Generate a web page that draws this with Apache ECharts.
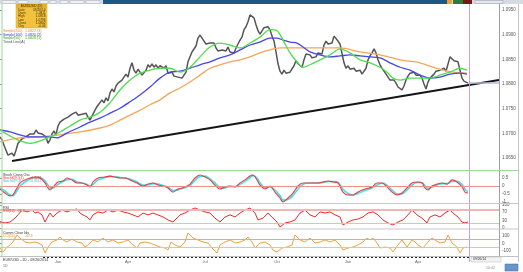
<!DOCTYPE html>
<html><head><meta charset="utf-8">
<script src="https://cdn.jsdelivr.net/npm/echarts@6/dist/echarts.min.js"></script>
<style>html,body{margin:0;padding:0;background:#fff;overflow:hidden}#c{width:523px;height:272px}</style>
</head><body><div id="c"></div>
<script>
// ---- data (bar index = trading day) ----
const closeStep = 2;
const close = [
1.0693,1.0687,1.0676,1.0666,1.0656,1.0652,1.0660,1.0654,1.0666,1.0680,
1.0676,1.0689,1.0685,1.0693,1.0689,1.0699,1.0703,1.0699,1.0707,1.0701,
1.0705,1.0699,1.0695,1.0693,1.0680,1.0687,1.0699,1.0705,1.0697,1.0715,
1.0723,1.0719,1.0729,1.0727,1.0733,1.0729,1.0739,1.0735,1.0743,1.0737,
1.0733,1.0739,1.0735,1.0741,1.0733,1.0727,1.0735,1.0743,1.0751,1.0757,
1.0753,1.0768,1.0762,1.0772,1.0766,1.0782,1.0790,1.0784,1.0796,1.0802,
1.0798,1.0808,1.0812,1.0820,1.0814,1.0832,1.0843,1.0828,1.0822,1.0830,
1.0824,1.0818,1.0822,1.0828,1.0839,1.0834,1.0841,1.0834,1.0839,1.0832,
1.0837,1.0839,1.0832,1.0837,1.0822,1.0818,1.0824,1.0816,1.0820,1.0814,
1.0818,1.0812,1.0816,1.0824,1.0845,1.0849,1.0865,1.0871,1.0877,1.0893,
1.0899,1.0895,1.0887,1.0881,1.0877,1.0883,1.0879,1.0883,1.0873,1.0867,
1.0863,1.0869,1.0873,1.0867,1.0875,1.0865,1.0869,1.0863,1.0873,1.0881,
1.0889,1.0895,1.0910,1.0916,1.0926,1.0940,1.0944,1.0934,1.0920,1.0908,
1.0901,1.0905,1.0914,1.0910,1.0916,1.0910,1.0897,1.0887,1.0865,1.0841,
1.0826,1.0820,1.0828,1.0822,1.0818,1.0824,1.0820,1.0837,1.0847,1.0841,
1.0843,1.0834,1.0849,1.0861,1.0857,1.0859,1.0853,1.0857,1.0855,1.0863,
1.0867,1.0861,1.0879,1.0887,1.0881,1.0885,1.0883,1.0897,1.0899,1.0887,
1.0881,1.0877,1.0843,1.0832,1.0837,1.0830,1.0828,1.0832,1.0826,1.0824,
1.0828,1.0820,1.0818,1.0832,1.0849,1.0857,1.0863,1.0871,1.0863,1.0849,
1.0839,1.0832,1.0826,1.0820,1.0814,1.0808,1.0804,1.0808,1.0802,1.0794,
1.0790,1.0788,1.0796,1.0808,1.0816,1.0822,1.0820,1.0824,1.0818,1.0816,
1.0818,1.0812,1.0800,1.0790,1.0804,1.0812,1.0816,1.0820,1.0826,1.0822,
1.0828,1.0824,1.0832,1.0826,1.0828,1.0855,1.0853,1.0847,1.0851,1.0845,
1.0828,1.0812,1.0806,1.0804,1.0802
];
const sma50 = [[0,1.0707],[10,1.0695],[20,1.0685],[30,1.0680],[40,1.0685],[50,1.0693],[60,1.0703],[70,1.0715],[80,1.0727],[90,1.0733],[100,1.0743],[110,1.0762],[120,1.0788],[130,1.0808],[140,1.0822],[150,1.0828],[160,1.0832],[170,1.0832],[180,1.0824],[190,1.0834],[200,1.0855],[210,1.0875],[220,1.0883],[230,1.0879],[240,1.0873],[250,1.0883],[260,1.0895],[270,1.0910],[277,1.0908],[283,1.0889],[290,1.0863],[297,1.0845],[303,1.0834],[310,1.0839],[320,1.0849],[330,1.0859],[340,1.0871],[350,1.0863],[360,1.0849],[370,1.0843],[380,1.0834],[387,1.0824],[393,1.0812],[400,1.0808],[410,1.0812],[420,1.0812],[430,1.0812],[440,1.0818],[450,1.0824],[460,1.0832],[467,1.0828]];
const sma100 = [[0,1.0707],[10,1.0703],[20,1.0697],[30,1.0693],[40,1.0693],[50,1.0693],[57,1.0691],[67,1.0701],[80,1.0713],[90,1.0723],[100,1.0731],[110,1.0741],[120,1.0751],[130,1.0764],[140,1.0778],[150,1.0794],[160,1.0812],[170,1.0824],[180,1.0826],[190,1.0832],[200,1.0839],[210,1.0845],[220,1.0853],[230,1.0859],[240,1.0869],[250,1.0879],[260,1.0885],[270,1.0893],[277,1.0893],[283,1.0889],[290,1.0885],[297,1.0883],[303,1.0875],[310,1.0865],[320,1.0859],[330,1.0855],[340,1.0857],[350,1.0859],[360,1.0857],[370,1.0855],[380,1.0853],[390,1.0843],[400,1.0834],[410,1.0828],[420,1.0818],[430,1.0812],[440,1.0814],[450,1.0820],[460,1.0822],[467,1.0820]];
const sma200 = [[0,1.0683],[20,1.0691],[40,1.0693],[60,1.0697],[80,1.0703],[100,1.0711],[110,1.0717],[120,1.0727],[130,1.0737],[140,1.0747],[150,1.0758],[160,1.0768],[170,1.0782],[180,1.0792],[190,1.0804],[200,1.0818],[210,1.0832],[220,1.0839],[230,1.0845],[240,1.0849],[250,1.0855],[260,1.0863],[270,1.0869],[280,1.0873],[300,1.0873],[320,1.0873],[340,1.0873],[360,1.0865],[380,1.0859],[400,1.0849],[420,1.0843],[433,1.0834],[443,1.0828],[453,1.0824],[467,1.0822]];
const trendLine = [[12,1.0644],[499,1.0808]];
const lastPrice = 1.0802;

const stochK = [[0,-0.19],[5,-0.44],[10,-0.62],[13,-0.56],[17,-0.12],[20,0.19],[25,0.38],[30,0.5],[35,0.56],[40,0.5],[45,0.19],[48,-0.12],[50,-0.25],[53,-0.06],[58,0.25],[63,0.31],[67,0.5],[72,0.38],[77,0.19],[82,0.19],[87,0.06],[90,-0.06],[93,0.25],[98,0.5],[105,0.56],[110,0.62],[115,0.56],[120,0.5],[125,0.5],[130,0.38],[137,0.19],[143,0],[148,0.12],[153,0.19],[158,0.06],[163,0],[168,-0.12],[173,-0.38],[178,-0.19],[182,-0.12],[185,-0.06],[190,0.12],[195,0.5],[200,0.69],[205,0.56],[210,0.38],[215,0.06],[220,-0.19],[225,-0.06],[230,0],[235,-0.06],[240,0.19],[245,0.38],[250,0.62],[253,0.69],[257,0.38],[260,0.06],[265,-0.19],[270,0],[275,-0.38],[280,-0.75],[283,-1.0],[288,-0.75],[293,-0.44],[298,0],[303,0.19],[308,0.19],[313,0.19],[318,0.19],[323,0.25],[328,0.31],[333,0.25],[338,0.19],[343,-0.38],[348,-0.56],[353,-0.56],[358,-0.38],[365,-0.19],[372,-0.06],[377,0.19],[382,0.19],[387,-0.06],[392,-0.38],[397,-0.56],[402,-0.44],[407,-0.12],[412,0.19],[417,0.25],[422,0.19],[425,-0.12],[428,-0.25],[432,0],[437,0.12],[442,0.19],[447,0.12],[452,0.38],[457,0.25],[462,-0.06],[465,-0.38],[468,-0.44]];
const stochD = [[0,-0.12],[5,-0.31],[10,-0.56],[13,-0.6],[17,-0.3],[20,0.0],[25,0.25],[30,0.44],[35,0.53],[40,0.53],[45,0.31],[48,0.06],[50,-0.12],[53,-0.12],[58,0.1],[63,0.28],[67,0.4],[72,0.42],[77,0.25],[82,0.19],[87,0.1],[90,0.0],[93,0.1],[98,0.38],[105,0.53],[110,0.6],[115,0.58],[120,0.53],[125,0.5],[130,0.44],[137,0.25],[143,0.06],[148,0.06],[153,0.15],[158,0.12],[163,0.03],[168,-0.06],[173,-0.28],[178,-0.25],[182,-0.16],[185,-0.1],[190,0.03],[195,0.35],[200,0.6],[205,0.62],[210,0.45],[215,0.19],[220,-0.1],[225,-0.12],[230,-0.03],[235,-0.03],[240,0.1],[245,0.3],[250,0.53],[253,0.65],[257,0.5],[260,0.2],[265,-0.1],[270,-0.06],[275,-0.25],[280,-0.6],[283,-0.88],[288,-0.85],[293,-0.6],[298,-0.19],[303,0.1],[308,0.19],[313,0.19],[318,0.19],[323,0.22],[328,0.28],[333,0.28],[338,0.22],[343,-0.2],[348,-0.47],[353,-0.56],[358,-0.47],[365,-0.28],[372,-0.12],[377,0.06],[382,0.19],[387,0.06],[392,-0.25],[397,-0.5],[402,-0.5],[407,-0.25],[412,0.06],[417,0.22],[422,0.22],[425,0.03],[428,-0.15],[432,-0.06],[437,0.06],[442,0.15],[447,0.15],[452,0.28],[457,0.3],[462,0.1],[465,-0.2],[468,-0.35]];
const rsi = [[0,26],[5,22],[10,26],[15,43],[18,57],[22,78],[27,70],[32,78],[35,65],[38,70],[42,57],[45,26],[47,43],[50,65],[53,48],[57,65],[62,78],[67,70],[72,78],[77,83],[80,65],[83,57],[87,48],[90,35],[93,57],[98,70],[103,65],[108,78],[113,70],[118,78],[123,70],[128,65],[133,57],[138,48],[143,65],[148,57],[153,65],[158,57],[163,48],[168,35],[173,26],[178,48],[180,57],[185,65],[190,78],[195,87],[200,78],[205,70],[210,65],[215,43],[220,26],[225,48],[230,57],[235,48],[240,65],[245,78],[250,87],[255,65],[258,35],[263,43],[268,65],[273,43],[277,26],[280,4],[285,22],[290,26],[295,35],[300,65],[305,78],[310,57],[315,48],[320,70],[325,65],[330,70],[335,57],[340,48],[343,13],[348,26],[353,35],[358,39],[363,48],[368,65],[373,70],[375,78],[378,57],[383,35],[388,22],[393,13],[398,26],[403,35],[408,57],[412,78],[417,57],[422,43],[427,22],[430,48],[435,57],[440,48],[445,65],[450,78],[453,65],[458,48],[462,26],[465,22],[468,26]];
const cci = [[0,-60],[3,-113],[7,-47],[10,-20],[13,20],[17,113],[20,73],[25,20],[30,7],[35,20],[38,7],[42,-20],[45,-127],[48,-47],[52,20],[57,47],[60,87],[63,47],[67,20],[72,60],[77,20],[82,7],[85,-47],[88,-20],[93,47],[98,20],[103,73],[108,20],[113,47],[118,7],[123,20],[128,47],[133,-20],[137,-60],[140,7],[145,20],[150,7],[155,-20],[160,-47],[165,-60],[168,-87],[171,20],[175,-20],[180,-47],[185,20],[188,140],[193,73],[198,47],[203,20],[208,7],[212,-60],[217,-127],[220,-20],[225,20],[230,47],[235,7],[240,20],[245,47],[248,87],[252,20],[255,-60],[260,7],[265,20],[270,-20],[273,-87],[277,-113],[282,-60],[287,-47],[292,-20],[295,113],[300,47],[305,20],[310,73],[315,7],[320,20],[325,47],[330,20],[335,47],[340,-20],[343,-87],[348,-60],[353,-47],[358,-20],[363,20],[367,73],[370,47],[373,73],[377,7],[380,-60],[385,-47],[390,-60],[393,-113],[398,-20],[402,47],[407,-47],[412,47],[415,20],[418,-20],[423,-60],[428,20],[432,73],[435,47],[440,7],[445,20],[448,113],[452,7],[457,-47],[460,-127],[463,-60],[467,-47]];

const priceTicks = [1.0650,1.0700,1.0750,1.0800,1.0850,1.0900,1.0950];
const stochTicks = [-1.0,-0.5,0,0.5];
const stochLevel = 0;
const rsiTicks = [0,30,70,100];
const rsiLevels = [80,20];
const cciTicks = [-100,0,100];
const cciLevels = [50,-50];
const dateBars = [58,128,205,277,348,418];
const dateLabels = ['Jan','Apr','Jul','Oct','Jan','Apr'];
const infoLabels = ['Date','Open','High','Low','Close','Chg'];
const infoValues = ['09/26/14','1.0811','1.0818','1.0796','1.0802','-0.04'];

// ---- chart ----
const closeData = close.map((v,i)=>[i*closeStep, v]);
const dashTicks = []; for (let b=44; b<=468; b+=4) dashTicks.push(b);
const F = 'Liberation Sans, Arial, sans-serif';
const XMAX = 499;

function yAx(grid, min, max, ticks, fmt){
  return {type:'value', gridIndex:grid, position:'right', min:min, max:max,
    axisLine:{show:false},
    axisTick:{show:true, length:2, lineStyle:{color:'#999'}, customValues:ticks},
    axisLabel:{show:true, fontSize:4.5, color:'#555', fontFamily:F, margin:3, customValues:ticks, formatter:fmt},
    splitLine:{show:false}};
}
function xAx(grid, show){
  const a = {type:'value', gridIndex:grid, min:0, max:XMAX, show:show, position:'bottom',
    axisLine:{show:false, onZero:false}, splitLine:{show:false}};
  if (show){
    a.axisTick = {show:true, length:2, lineStyle:{color:'#222', width:2}, customValues:dashTicks};
    a.axisLabel = {show:true, fontSize:4, color:'#666', fontFamily:F, margin:4, customValues:dateBars,
      formatter: v => { const k = dateBars.indexOf(v); return k>=0 ? dateLabels[k] : ''; }};
  }
  return a;
}
function lvl(vals, colors, widths){
  return {silent:true, symbol:'none', label:{show:false}, animation:false,
    data: vals.map((v,i)=>({yAxis:v, lineStyle:{color:colors[i], width:widths[i], type:'solid'}}))};
}
function ln(name, data, xi, color, width, extra){
  return Object.assign({name:name, type:'line', data:data, xAxisIndex:xi, yAxisIndex:xi, showSymbol:false,
    symbol:'none', lineStyle:{color:color, width:width}, itemStyle:{color:color}, animation:false}, extra||{});
}

const txt = (x,y,t,c,fs,align)=>({type:'text', x:x, y:y, style:{text:t, fill:c, font:(fs||4)+'px '+F, textAlign:align||'left', textVerticalAlign:'middle'}, z:100});
const line = (x1,y1,x2,y2,c,w)=>({type:'line', shape:{x1:x1,y1:y1,x2:x2,y2:y2}, style:{stroke:c, lineWidth:w||1}, z:90});
const rect = (x,y,w,h,f,s)=>({type:'rect', shape:{x:x,y:y,width:w,height:h}, style:{fill:f, stroke:s||null, lineWidth:0.5}, z:95});

const graphics = [
  // toolbar
  rect(0,0,523,4,'#d6dbe2'), rect(103,0,345,4,'#1d5883'),
  rect(2,0.5,14,3,'#eef0f3','#aab'), rect(18,0.5,10,3,'#eef0f3','#aab'), rect(40,0.5,8,3,'#eef0f3','#aab'),
  rect(50,0.5,6,3,'#eef0f3','#aab'), rect(60,0.5,8,3,'#eef0f3','#aab'), rect(70,0.5,14,3,'#eef0f3','#aab'), rect(86,0.5,14,3,'#eef0f3','#aab'),
  rect(447,0,5,4,'#e9a22f'), rect(453,0,10,4,'#2f7a34'), rect(463,0,9,4,'#7d1616'), rect(475,0.5,28,3,'#e4e7ec','#99a'),
  // frame lines
  line(2,4,2,257,'#9bd69b',1), line(499.5,4,499.5,256,'#a0a0a0',1), line(518.5,4,518.5,262,'#c4c4c4',1),
  line(0,170.5,518,170.5,'#9bd69b',1), line(0,203.5,518,203.5,'#c8c8c8',1), line(0,229,518,229,'#c8c8c8',1), line(0,256.5,518,256.5,'#c0c0c0',1),
  line(469.5,4,469.5,262,'#c9a2dc',1),
  // yellow info box
  rect(16,4,31,24,'#f2c23e','#d9a31c'), rect(16,4,31,4,'#e8b12a'),
  txt(31.5,6,'EUR/USD (D)','#3a2a00',3.5,'center'),
  // legend texts
  txt(3,31,'Simple(200)','#f08a30',3.6), txt(25,31,'1.0822 (3)','#f08a30',3.6),
  txt(3,34.6,'Simple(100)','#3030e0',3.6), txt(25,34.6,'1.0820 (2)','#3030e0',3.6),
  txt(3,38.2,'Simple(50)','#22b022',3.6), txt(25,38.2,'1.0828 (1)','#22b022',3.6),
  txt(3,41.6,'Trend Line(A)','#555',3.6),
  // stoch header
  txt(3,174.5,'Stoch Cross Osc','#333',3.6), txt(3,178,'StochK(9,3,1)','#e83030',3.4), txt(30,178,'-0.4056','#e83030',3.4),
  txt(3,181.3,'StochD(9,3)','#20c8d8',3.4), txt(30,181.3,'-0.3512','#20c8d8',3.4),
  // rsi header
  txt(3,207.5,'RSI','#333',3.6), txt(3,211,'RSI(14)','#e83030',3.4), txt(18,211,'26.3','#e83030',3.4),
  // cci header
  txt(3,233,'Comm Chan Idx','#333',3.6), txt(3,236.5,'CCI(14)','#f08a30',3.4), txt(25,236.5,'-47.9','#f08a30',3.4),
  // bottom
  txt(3,259.5,'EUR/USD - 1D - 09/26/2014','#333',3.6), txt(3,266,'1D','#666',3.6),
  rect(471,257,30,5,'#f2f2f2','#bbb'), txt(473,259.5,'09/26/14','#333',3.4),
  txt(486,268,'10:42','#888',3.6), rect(505,264,13,7,'#6a95c8','#3d6aa0')
];
infoLabels.forEach((t,i)=>{
  graphics.push(txt(18, 10 + i*3.3, t, '#4a3600', 3.2));
  graphics.push(txt(45.5, 10 + i*3.3, infoValues[i], '#3a2a00', 3.2, 'right'));
});

const chart = echarts.init(document.getElementById('c'), null, {renderer:'canvas'});
chart.setOption({
  animation:false,
  backgroundColor:'#ffffff',
  grid:[
    {left:0, right:24, top:4, height:166},
    {left:0, right:24, top:172, height:31},
    {left:0, right:24, top:205, height:23},
    {left:0, right:24, top:230, height:26}
  ],
  xAxis:[xAx(0,false), xAx(1,false), xAx(2,false), xAx(3,true)],
  yAxis:[
    yAx(0, 1.0626, 1.0962, priceTicks, v=>v.toFixed(4)),
    yAx(1, -1.0625, 0.875, stochTicks, v=>String(v)),
    yAx(2, 0, 100, rsiTicks, v=>String(v)),
    yAx(3, -166.7, 180, cciTicks, v=>String(v))
  ],
  series:[
    ln('Price', closeData, 0, '#555555', 1.5, {markLine:{silent:true, symbol:'none', label:{show:false},
      data:[[{coord:[468,lastPrice]},{coord:[XMAX,lastPrice]}]], lineStyle:{color:'#b5bde0', width:1.5, type:'solid'}}}),
    ln('SMA200', sma200, 0, '#f5a55a', 1.3, {smooth:0.3}),
    ln('SMA100', sma100, 0, '#4646ea', 1.3, {smooth:0.3}),
    ln('SMA50', sma50, 0, '#4ede4e', 1.3, {smooth:0.3}),
    ln('Trend', trendLine, 0, '#151515', 2),
    ln('StochD', stochD, 1, '#3fe0ea', 1.6, {smooth:0.3, markLine: lvl([stochLevel],['#e89090'],[1])}),
    ln('StochK', stochK, 1, '#f03a3a', 1.1, {smooth:0.3}),
    ln('RSI', rsi, 2, '#ee2b2b', 1, {markLine: lvl(rsiLevels,['#f2b6b6','#a8e0a8'],[2,1])}),
    ln('CCI', cci, 3, '#f0a040', 1, {markLine: lvl(cciLevels,['#e8a0a0','#a8e0a8'],[1,1])})
  ],
  graphic: graphics
});
</script></body></html>
